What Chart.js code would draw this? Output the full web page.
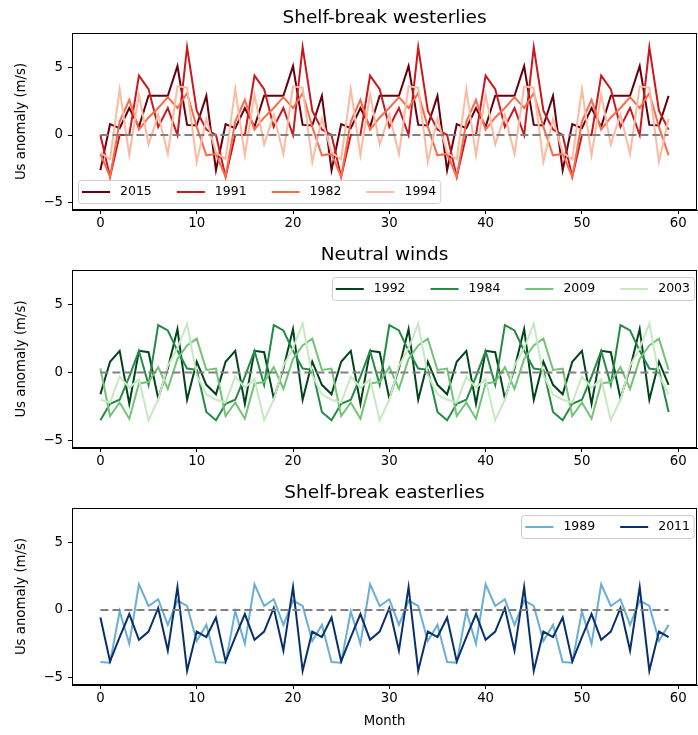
<!DOCTYPE html>
<html>
<head>
<meta charset="utf-8">
<script src="https://cdn.jsdelivr.net/npm/chart.js@4.4.1/dist/chart.umd.min.js"></script>
<style>
  html, body { margin: 0; padding: 0; background: #fff; }
  #wrap { position: relative; width: 698px; height: 735px; }
  .panel { position: absolute; left: 0; width: 698px; }
</style>
</head>
<body>
<div id="wrap">
  <div class="panel" style="top:0"><canvas id="c1" width="698" height="235"></canvas></div>
  <div class="panel" style="top:237px"><canvas id="c2" width="698" height="236"></canvas></div>
  <div class="panel" style="top:475px"><canvas id="c3" width="698" height="260"></canvas></div>
</div>
<script>
const months = Array.from({ length: 60 }, (_, i) => i);
const xTicks = [0, 10, 20, 30, 40, 50, 60];
const yTicks = [-5, 0, 5];

// Shelf-break westerlies
const w2015 = [
  -2.6, 0.8, 0.5, 2.0, 0.6, 2.9, 2.9, 2.9, 5.1, 0.75, 0.7, 2.9,
  -2.6, 0.8, 0.5, 2.0, 0.6, 2.9, 2.9, 2.9, 5.1, 0.75, 0.7, 2.9,
  -2.6, 0.8, 0.5, 2.0, 0.6, 2.9, 2.9, 2.9, 5.1, 0.75, 0.7, 2.9,
  -2.6, 0.8, 0.5, 2.0, 0.6, 2.9, 2.9, 2.9, 5.1, 0.75, 0.7, 2.9,
  -2.6, 0.8, 0.5, 2.0, 0.6, 2.9, 2.9, 2.9, 5.1, 0.75, 0.7, 2.9
];
const w1991 = [
  0.0, -3.1, 0.0, 0.0, 4.4, 3.4, 0.6, 2.0, 0.0, 6.5, 1.8, 0.4,
  0.0, -3.1, 0.0, 0.0, 4.4, 3.4, 0.6, 2.0, 0.0, 6.5, 1.8, 0.4,
  0.0, -3.1, 0.0, 0.0, 4.4, 3.4, 0.6, 2.0, 0.0, 6.5, 1.8, 0.4,
  0.0, -3.1, 0.0, 0.0, 4.4, 3.4, 0.6, 2.0, 0.0, 6.5, 1.8, 0.4,
  0.0, -3.1, 0.0, 0.0, 4.4, 3.4, 0.6, 2.0, 0.0, 6.5, 1.8, 0.4
];
const w1982 = [
  -1.4, -3.1, 1.0, 2.6, 0.4, 1.3, 2.0, 2.8, 2.0, 3.1, 0.6, -1.5,
  -1.4, -3.1, 1.0, 2.6, 0.4, 1.3, 2.0, 2.8, 2.0, 3.1, 0.6, -1.5,
  -1.4, -3.1, 1.0, 2.6, 0.4, 1.3, 2.0, 2.8, 2.0, 3.1, 0.6, -1.5,
  -1.4, -3.1, 1.0, 2.6, 0.4, 1.3, 2.0, 2.8, 2.0, 3.1, 0.6, -1.5,
  -1.4, -3.1, 1.0, 2.6, 0.4, 1.3, 2.0, 2.8, 2.0, 3.1, 0.6, -1.5
];
const w1994 = [
  -1.3, -1.8, 3.4, -1.5, 3.0, -0.7, 1.5, -1.4, 3.6, 3.5, -2.0, 1.2,
  -1.3, -1.8, 3.4, -1.5, 3.0, -0.7, 1.5, -1.4, 3.6, 3.5, -2.0, 1.2,
  -1.3, -1.8, 3.4, -1.5, 3.0, -0.7, 1.5, -1.4, 3.6, 3.5, -2.0, 1.2,
  -1.3, -1.8, 3.4, -1.5, 3.0, -0.7, 1.5, -1.4, 3.6, 3.5, -2.0, 1.2,
  -1.3, -1.8, 3.4, -1.5, 3.0, -0.7, 1.5, -1.4, 3.6, 3.5, -2.0, 1.2
];

// Neutral winds
const n1992 = [
  -1.6, 0.8, 1.6, -2.3, 1.6, 1.5, -1.9, 0.3, 3.2, -2.0, 0.8, -0.9,
  -1.6, 0.8, 1.6, -2.3, 1.6, 1.5, -1.9, 0.3, 3.2, -2.0, 0.8, -0.9,
  -1.6, 0.8, 1.6, -2.3, 1.6, 1.5, -1.9, 0.3, 3.2, -2.0, 0.8, -0.9,
  -1.6, 0.8, 1.6, -2.3, 1.6, 1.5, -1.9, 0.3, 3.2, -2.0, 0.8, -0.9,
  -1.6, 0.8, 1.6, -2.3, 1.6, 1.5, -1.9, 0.3, 3.2, -2.0, 0.8, -0.9
];
const n1984 = [
  -3.5, -2.3, -2.0, -0.3, 1.6, -0.9, 3.5, 3.1, 1.6, 0.3, 0.2, -2.9,
  -3.5, -2.3, -2.0, -0.3, 1.6, -0.9, 3.5, 3.1, 1.6, 0.3, 0.2, -2.9,
  -3.5, -2.3, -2.0, -0.3, 1.6, -0.9, 3.5, 3.1, 1.6, 0.3, 0.2, -2.9,
  -3.5, -2.3, -2.0, -0.3, 1.6, -0.9, 3.5, 3.1, 1.6, 0.3, 0.2, -2.9,
  -3.5, -2.3, -2.0, -0.3, 1.6, -0.9, 3.5, 3.1, 1.6, 0.3, 0.2, -2.9
];
const n2009 = [
  0.3, -3.2, -2.2, -3.4, -0.8, -0.7, 0.4, -1.2, 1.0, 2.0, 2.5, 0.2,
  0.3, -3.2, -2.2, -3.4, -0.8, -0.7, 0.4, -1.2, 1.0, 2.0, 2.5, 0.2,
  0.3, -3.2, -2.2, -3.4, -0.8, -0.7, 0.4, -1.2, 1.0, 2.0, 2.5, 0.2,
  0.3, -3.2, -2.2, -3.4, -0.8, -0.7, 0.4, -1.2, 1.0, 2.0, 2.5, 0.2,
  0.3, -3.2, -2.2, -3.4, -0.8, -0.7, 0.4, -1.2, 1.0, 2.0, 2.5, 0.2
];
const n2003 = [
  -2.0, -2.2, -0.3, -1.1, -0.5, -3.5, -2.0, 0.5, 1.8, 3.6, -0.2, -1.6,
  -2.0, -2.2, -0.3, -1.1, -0.5, -3.5, -2.0, 0.5, 1.8, 3.6, -0.2, -1.6,
  -2.0, -2.2, -0.3, -1.1, -0.5, -3.5, -2.0, 0.5, 1.8, 3.6, -0.2, -1.6,
  -2.0, -2.2, -0.3, -1.1, -0.5, -3.5, -2.0, 0.5, 1.8, 3.6, -0.2, -1.6,
  -2.0, -2.2, -0.3, -1.1, -0.5, -3.5, -2.0, 0.5, 1.8, 3.6, -0.2, -1.6
];

// Shelf-break easterlies
const e1989 = [
  -3.85, -3.9, -0.1, -2.5, 1.9, 0.3, 0.8, -1.1, 0.7, 0.3, -2.3, -1.1,
  -3.85, -3.9, -0.1, -2.5, 1.9, 0.3, 0.8, -1.1, 0.7, 0.3, -2.3, -1.1,
  -3.85, -3.9, -0.1, -2.5, 1.9, 0.3, 0.8, -1.1, 0.7, 0.3, -2.3, -1.1,
  -3.85, -3.9, -0.1, -2.5, 1.9, 0.3, 0.8, -1.1, 0.7, 0.3, -2.3, -1.1,
  -3.85, -3.9, -0.1, -2.5, 1.9, 0.3, 0.8, -1.1, 0.7, 0.3, -2.3, -1.1
];
const e2011 = [
  -0.55, -3.8, -2.0, -0.3, -2.2, -1.6, 0.15, -3.0, 1.7, -4.5, -1.6, -2.0,
  -0.55, -3.8, -2.0, -0.3, -2.2, -1.6, 0.15, -3.0, 1.7, -4.5, -1.6, -2.0,
  -0.55, -3.8, -2.0, -0.3, -2.2, -1.6, 0.15, -3.0, 1.7, -4.5, -1.6, -2.0,
  -0.55, -3.8, -2.0, -0.3, -2.2, -1.6, 0.15, -3.0, 1.7, -4.5, -1.6, -2.0,
  -0.55, -3.8, -2.0, -0.3, -2.2, -1.6, 0.15, -3.0, 1.7, -4.5, -1.6, -2.0
];

const FONT = '"DejaVu Sans", sans-serif';

// legend box drawn inside the plot, matplotlib style
const boxLegend = {
  id: 'boxLegend',
  afterDatasetsDraw(chart, args, opts) {
    const { ctx, chartArea: a } = chart;
    const items = chart.data.datasets.filter(d => d.inLegend);
    ctx.save();
    ctx.font = '12.5px ' + FONT;
    const widths = items.map(d => ctx.measureText(d.label).width);
    const w = 4 + widths.reduce((s, tw) => s + 38 + tw, 0) + 25 * (items.length - 1) + 4;
    const h = 23;
    const x0 = opts.corner === 'lowerLeft' ? a.left + 6 : a.right - 3 - w;
    const y0 = opts.corner === 'lowerLeft' ? a.bottom - 7 - h : a.top + 7;
    ctx.beginPath();
    if (ctx.roundRect) ctx.roundRect(Math.round(x0) + 0.5, Math.round(y0) + 0.5, w, h, 3);
    else ctx.rect(Math.round(x0) + 0.5, Math.round(y0) + 0.5, w, h);
    ctx.fillStyle = 'rgba(255,255,255,0.8)';
    ctx.fill();
    ctx.strokeStyle = '#cccccc';
    ctx.lineWidth = 1;
    ctx.stroke();
    let x = x0 + 4;
    const yc = y0 + h / 2 + 0.5;
    items.forEach((d, i) => {
      ctx.beginPath();
      ctx.moveTo(x, yc);
      ctx.lineTo(x + 28, yc);
      ctx.strokeStyle = d.borderColor;
      ctx.lineWidth = 2;
      ctx.stroke();
      ctx.fillStyle = '#000';
      ctx.textBaseline = 'middle';
      ctx.fillText(d.label, x + 38, yc);
      x += 38 + widths[i] + 25;
    });
    ctx.restore();
  }
};

// full box around the plot area
const frame = {
  id: 'frame',
  afterDraw(chart) {
    const { ctx, chartArea: a } = chart;
    ctx.save();
    ctx.strokeStyle = '#000';
    ctx.lineWidth = 1;
    ctx.strokeRect(Math.round(a.left) + 0.5, Math.round(a.top) + 0.5,
      Math.round(a.right - a.left) - 1, Math.round(a.bottom - a.top) - 1);
    ctx.restore();
  }
};

function series(label, values, color, i) {
  return {
    label: label,
    data: months.map((m, k) => ({ x: m, y: values[k] })),
    borderColor: color,
    borderWidth: 2,
    pointRadius: 0,
    tension: 0,
    inLegend: true,
    order: 10 - i
  };
}

function zeroLine() {
  return {
    label: 'zero',
    data: [{ x: months[0], y: 0 }, { x: months[months.length - 1], y: 0 }],
    borderColor: '#808080',
    borderWidth: 2,
    borderDash: [8, 4],
    pointRadius: 0,
    inLegend: false,
    order: 0
  };
}

const minus = v => String(v).replace('-', '\u2212');

function makeChart(id, title, datasets, corner, showXTitle) {
  return new Chart(document.getElementById(id), {
    type: 'line',
    data: { datasets: datasets.concat([zeroLine()]) },
    plugins: [boxLegend, frame],
    options: {
      responsive: false,
      animation: false,
      layout: { padding: { left: 0, right: 1, top: 0, bottom: 0 } },
      plugins: {
        legend: { display: false },
        tooltip: { enabled: false },
        title: {
          display: true,
          fullSize: false,
          text: title,
          color: '#000',
          font: { family: FONT, size: 18.5, weight: 'normal', lineHeight: 1.2 },
          padding: { top: 6.9, bottom: 3.9 }
        },
        boxLegend: { corner: corner }
      },
      scales: {
        x: {
          type: 'linear',
          min: -2.95,
          max: 61.95,
          afterBuildTicks: s => { s.ticks = xTicks.map(v => ({ value: v })); },
          afterFit: s => { s.height = showXTitle ? 50 : 25; },
          grid: { display: true, drawOnChartArea: false, drawTicks: true, tickLength: 4, color: '#000' },
          border: { display: true, color: '#000' },
          ticks: { color: '#000', font: { family: FONT, size: 13.3 }, padding: 2, maxRotation: 0, autoSkip: false },
          title: {
            display: showXTitle,
            text: 'Month',
            color: '#000',
            font: { family: FONT, size: 13.3, lineHeight: 1.2 },
            padding: { top: 0, bottom: 5 }
          }
        },
        y: {
          type: 'linear',
          min: -5.55,
          max: 7.55,
          afterBuildTicks: s => { s.ticks = yTicks.map(v => ({ value: v })); },
          afterFit: s => { s.width = 72; },
          grid: { display: true, drawOnChartArea: false, drawTicks: true, tickLength: 4, color: '#000' },
          border: { display: true, color: '#000' },
          ticks: { color: '#000', font: { family: FONT, size: 13.3 }, padding: 5, callback: v => minus(v) },
          title: {
            display: true,
            text: 'Us anomaly (m/s)',
            color: '#000',
            font: { family: FONT, size: 13.3, lineHeight: 1.2 },
            padding: { top: 14, bottom: 0 }
          }
        }
      }
    }
  });
}

makeChart('c1', 'Shelf-break westerlies', [
  series('2015', w2015, '#67000d', 0),
  series('1991', w1991, '#cb181d', 1),
  series('1982', w1982, '#fb6a4a', 2),
  series('1994', w1994, '#fcbba1', 3)
], 'lowerLeft', false);

makeChart('c2', 'Neutral winds', [
  series('1992', n1992, '#00441b', 0),
  series('1984', n1984, '#238b45', 1),
  series('2009', n2009, '#74c476', 2),
  series('2003', n2003, '#c7e9c0', 3)
], 'upperRight', false);

makeChart('c3', 'Shelf-break easterlies', [
  series('1989', e1989, '#6baed6', 0),
  series('2011', e2011, '#08306b', 1)
], 'upperRight', true);
</script>
</body>
</html>
